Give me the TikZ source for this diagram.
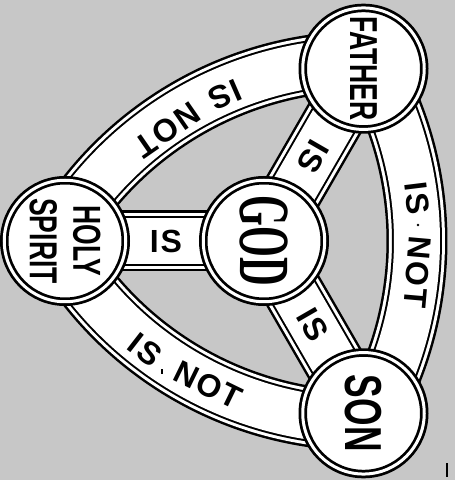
\documentclass[tikz,border=0pt]{standalone}
\usepackage{fontspec}
\setmainfont{Liberation Sans}
\newfontfamily\namefont[FakeStretch=0.68]{Liberation Sans}
\newfontfamily\godfont[FakeStretch=0.55]{Liberation Serif}
\newfontfamily\wordfont[LetterSpace=6]{Liberation Sans}
\usetikzlibrary{backgrounds}
\definecolor{scangray}{gray}{0.78}
\tikzset{
  band/.style={line width=61pt, draw=black,
    postaction={draw=white, line width=56pt},
    postaction={draw=black, line width=50pt},
    postaction={draw=white, line width=46pt}},
  person/.style={circle, draw=black, double=white, double distance=3pt,
    line width=2.75pt, fill=white, minimum size=121.5pt, inner sep=0pt},
  word/.style={font=\wordfont\bfseries\fontsize{32}{32}\selectfont, inner sep=0pt}
}
\begin{document}
\begin{tikzpicture}[x=1pt, y=1pt, line cap=butt]
  \useasboundingbox (0,0) rectangle (455,480);
  % the four circles
  \node[person, rotate=-90, font=\godfont\bfseries\fontsize{72}{72}\selectfont] (G) at (264,239) {GOD};
  \node[person, rotate=-90, align=center, font=\namefont\bfseries\fontsize{39}{43.5}\selectfont] (H) at (65,239) {HOLY\\SPIRIT};
  \node[person, rotate=-90, font=\namefont\bfseries\fontsize{39}{39}\selectfont] (F) at (363.5,411.3) {FATHER};
  \node[person, rotate=-90, font=\namefont\bfseries\fontsize{52}{52}\selectfont] (S) at (363.5,66.7) {SON};
  % spokes and outer ring, under the circles
  \begin{pgfonlayer}{background}
    \fill[scangray] (0,0) rectangle (455,480);
    \draw[band] (H.center) -- (G.center);
    \draw[band] (F.center) -- (G.center);
    \draw[band] (S.center) -- (G.center);
    \draw[band] ([shift={(90:352)}]S.center) arc[start angle=90, end angle=150, radius=352];
    \draw[band] ([shift={(-30:352)}]H.center) arc[start angle=-30, end angle=30, radius=352];
    \draw[band] ([shift={(210:352)}]F.center) arc[start angle=210, end angle=270, radius=352];
  \end{pgfonlayer}
  % words on the spokes
  \node[word] (isH) at (166,239) {IS};
  \node[word, rotate=-120] (isF) at (313,323) {IS};
  \node[word, rotate=-60] (isS) at (313,155) {IS};
  % words on the ring
  \node[word, rotate=203.5] (isHF) at (225,385) {IS};
  \node[word, rotate=214.7] (notHF) at (167,350) {NOT};
  \node[word, rotate=-83] (isFS) at (417.5,282) {IS};
  \node[word, rotate=-95] (notFS) at (417.5,207.5) {NOT};
  \node[word, rotate=-37.8] (isSH) at (145,130) {IS};
  \node[word, rotate=-26] (notSH) at (208,95) {NOT};
  \fill (418,255) circle (1.4);
  \draw[line width=1.2pt] (162,106) -- (162,111);
  \draw[line width=1.3pt] (447,3) -- (447,17);
\end{tikzpicture}
\end{document}
